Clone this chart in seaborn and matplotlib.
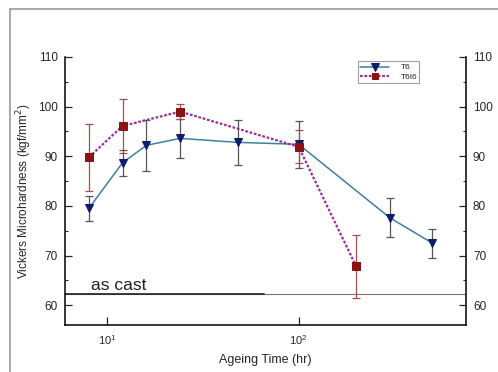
import numpy as np
import pandas as pd
import matplotlib
matplotlib.use("Agg")
import matplotlib.pyplot as plt
import matplotlib.ticker as mticker
from matplotlib.patches import Rectangle
import seaborn as sns

# data
t6_time = [8, 12, 16, 24, 48, 100, 300, 500]
t6_hv = [79.5, 88.7, 92.2, 93.6, 92.8, 92.4, 77.6, 72.5]
t6_err = [2.5, 2.6, 5.2, 4.0, 4.5, 4.7, 3.9, 2.9]

t6i6_time = [8, 12, 24, 100, 200]
t6i6_hv = [89.8, 96.1, 99.0, 91.9, 67.8]
t6i6_err = [6.8, 5.5, 1.5, 3.3, 6.3]

as_cast = 62.3
yticks = [60, 70, 80, 90, 100, 110]

sns.set_style("ticks", {"xtick.direction": "in", "ytick.direction": "in"})
plt.rcParams['font.family'] = ['Liberation Sans', 'DejaVu Sans']

fig = plt.figure(figsize=(4.98, 3.72), dpi=100)
ax = fig.add_axes([0.1305, 0.1263, 0.8052, 0.7205])
ax.set_xscale('log')

df_t6 = pd.DataFrame({'time': t6_time, 'hv': t6_hv})
df_t6i6 = pd.DataFrame({'time': t6i6_time, 'hv': t6i6_hv})

# error bars
ax.errorbar(t6_time, t6_hv, yerr=t6_err, fmt='none', ecolor='#555555',
            elinewidth=0.9, capsize=3, capthick=0.9, zorder=2)
ax.errorbar(t6i6_time, t6i6_hv, yerr=t6i6_err, fmt='none', ecolor='#a05050',
            elinewidth=0.9, capsize=3, capthick=0.9, zorder=2)

sns.lineplot(data=df_t6, x='time', y='hv', ax=ax, color='#3f7fa3', lw=1.1,
             marker='v', markersize=6, markerfacecolor='#0c1d6e',
             markeredgecolor='#0c1d6e', label='T6', zorder=3)
sns.lineplot(data=df_t6i6, x='time', y='hv', ax=ax, color='#9a2f9a', lw=1.6,
             linestyle=(0, (1.2, 0.8)), marker='s', markersize=5.5,
             markerfacecolor='#8b1212', markeredgecolor='#8b1212',
             label='T6I6', zorder=4)

# as cast reference
ax.axhline(as_cast, color='#777777', lw=0.8, zorder=1)
ax.plot([6, 66], [as_cast, as_cast], color='#222222', lw=1.2, zorder=1)
ax.text(8.2, as_cast + 0.8, 'as cast', fontsize=12.5, color='#222222')

ax.set_xlim(6, 750)
ax.set_ylim(56, 110)
ax.set_yticks(yticks)
ax.yaxis.set_minor_locator(mticker.MultipleLocator(5))
ax.xaxis.set_major_locator(mticker.FixedLocator([10, 100]))
ax.xaxis.set_minor_locator(mticker.NullLocator())

ax.tick_params(axis='y', which='major', direction='in', length=5, width=0.9,
               left=True, right=True, labelleft=True, labelright=True,
               labelsize=8.5, pad=5)
ax.tick_params(axis='y', which='minor', direction='in', length=2.5,
               width=0.8, left=True, right=True)
ax.tick_params(axis='x', which='major', direction='in', length=6, width=0.9,
               labelsize=8, pad=6)

ax.spines['top'].set_visible(False)
for s in ['left', 'right', 'bottom']:
    ax.spines[s].set_linewidth(1.1)
    ax.spines[s].set_color('black')

ax.set_xlabel('Ageing Time (hr)', fontsize=9, labelpad=5)
ax.set_ylabel('Vickers Microhardness (kgf/mm$^2$)', fontsize=8.5, labelpad=3)

leg = ax.legend(loc='upper left', bbox_to_anchor=(0.72, 1.0), fontsize=6,
                frameon=True, fancybox=False, edgecolor='#888888',
                handlelength=3.4, borderpad=0.3, labelspacing=0.2,
                handletextpad=1.4, markerscale=0.85)
leg.get_frame().set_linewidth(0.8)

# gray outer frame of the original figure
fig.patches.append(Rectangle((10 / 498, -0.1), 1.2, 1 - 9 / 372 + 0.1,
                             transform=fig.transFigure, fill=False,
                             edgecolor='#999999', lw=1.2))

fig.savefig('out.png', dpi=100)
